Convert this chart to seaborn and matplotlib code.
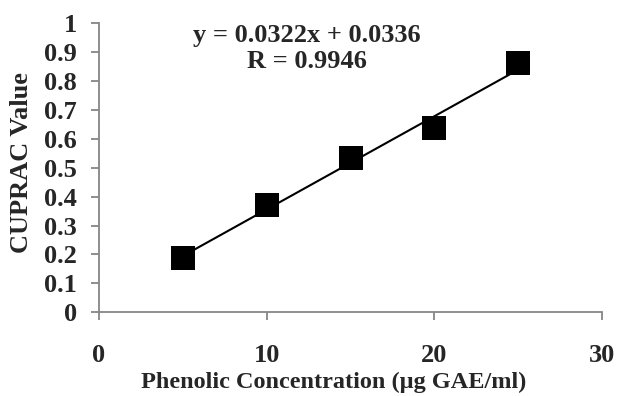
import numpy as np
import pandas as pd
import seaborn as sns
import matplotlib.pyplot as plt

# calibration data
conc = [5, 10, 15, 20, 25]
cuprac = [0.187, 0.370, 0.535, 0.636, 0.862]
slope = 0.0322
intercept = 0.0336
r_value = 0.9946
x_ticks = [0, 10, 20, 30]
y_ticks = [0, 0.1, 0.2, 0.3, 0.4, 0.5, 0.6, 0.7, 0.8, 0.9, 1]
y_ticklabels = ['0', '0.1', '0.2', '0.3', '0.4', '0.5', '0.6', '0.7', '0.8', '0.9', '1']

sns.set_style("ticks")
plt.rcParams['font.family'] = ['Liberation Serif', 'DejaVu Serif']
plt.rcParams['font.weight'] = 'bold'

df = pd.DataFrame({'conc': conc, 'cuprac': cuprac})
fit_x = np.array([conc[0], conc[-1]])
fit = pd.DataFrame({'conc': fit_x, 'cuprac': slope * fit_x + intercept})

fig = plt.figure(figsize=(6.18, 3.96), dpi=100)
ax = fig.add_axes([99 / 618, (396 - 312.3) / 396, 503 / 618, 289.3 / 396])

sns.lineplot(data=fit, x='conc', y='cuprac', color='black', linewidth=1.5, ax=ax)
sns.scatterplot(data=df, x='conc', y='cuprac', marker='s', s=300, color='black',
                edgecolor='black', linewidth=0, zorder=3, clip_on=False, ax=ax)

ax.set_xlim(0, 30)
ax.set_ylim(0, 1)
ax.set_xticks(x_ticks)
ax.set_yticks(y_ticks)
ax.set_xticklabels([str(t) for t in x_ticks], fontsize=19, fontweight='bold')
ax.set_yticklabels(y_ticklabels, fontsize=19, fontweight='bold')

sns.despine(ax=ax)
for side in ['left', 'bottom']:
    ax.spines[side].set_color('#868686')
    ax.spines[side].set_linewidth(1.3)
ax.tick_params(axis='both', color='#868686', width=1.3, length=6)
ax.tick_params(axis='x', pad=17)
ax.tick_params(axis='y', pad=10)

ax.set_xlabel('Phenolic Concentration (µg GAE/ml)', fontsize=17.5, fontweight='bold')
ax.set_ylabel('CUPRAC Value', fontsize=19, fontweight='bold')
# the original labels sit slightly left / up of the axes centre
ax.xaxis.set_label_coords(0.467, -0.205)
ax.yaxis.set_label_coords(-0.131, 0.518)

ax.text(12.4, 0.958, f'y = {slope}x + {intercept}', ha='center', va='center',
        fontsize=19, fontweight='bold')
ax.text(12.4, 0.868, f'R = {r_value}', ha='center', va='center',
        fontsize=19, fontweight='bold')

fig.savefig('out.png', dpi=100)
